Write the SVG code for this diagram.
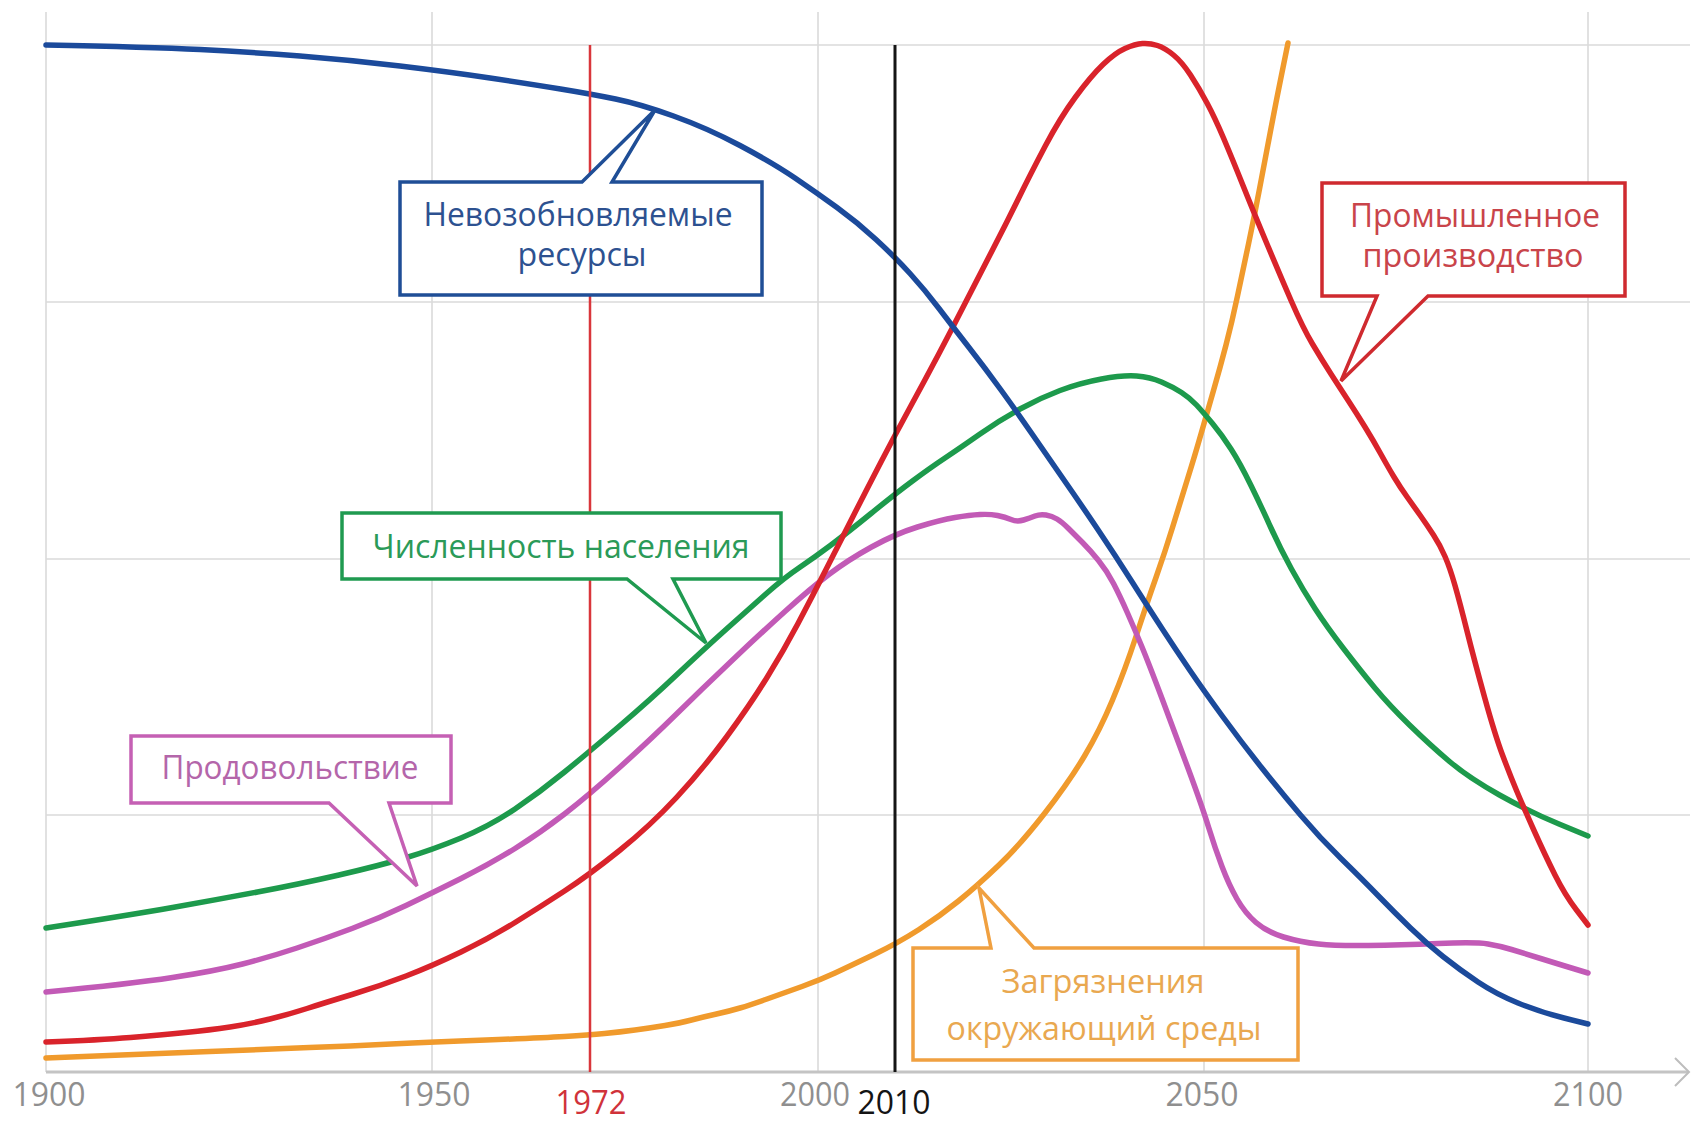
<svg xmlns="http://www.w3.org/2000/svg" width="1694" height="1124" viewBox="0 0 1694 1124">
<style>
.grid{stroke:#dadada;stroke-width:1.6;fill:none}
.axis{stroke:#c4c4c4;stroke-width:3;fill:none}
.curve{fill:none;stroke-width:5.5;stroke-linejoin:round;stroke-linecap:round}
.call{fill:#fff;stroke-width:3.5;stroke-linejoin:miter}
.lbl{font-family:"Open Sans","Noto Sans","Liberation Sans",sans-serif;font-size:32px;text-anchor:middle}
.tick{font-family:"Open Sans","Noto Sans","Liberation Sans",sans-serif;font-size:33px;text-anchor:middle;fill:#8f8f8f}
</style>
<rect width="1694" height="1124" fill="#fff"/>
<g id="grid">
<line class="grid" x1="46" y1="12" x2="46" y2="1072"/>
<line class="grid" x1="432" y1="12" x2="432" y2="1072"/>
<line class="grid" x1="818" y1="12" x2="818" y2="1072"/>
<line class="grid" x1="1204" y1="12" x2="1204" y2="1072"/>
<line class="grid" x1="1588" y1="12" x2="1588" y2="1072"/>
<line class="grid" x1="46" y1="45" x2="1690" y2="45"/>
<line class="grid" x1="46" y1="302" x2="1690" y2="302"/>
<line class="grid" x1="46" y1="559" x2="1690" y2="559"/>
<line class="grid" x1="46" y1="815" x2="1690" y2="815"/>
</g>
<g id="axis">
<line class="axis" x1="46" y1="1072" x2="1688" y2="1072"/>
<polyline points="1675,1058 1689,1072 1675,1086" fill="none" stroke="#bdbdbd" stroke-width="2"/>
<text class="tick" x="49" y="1106" textLength="73" lengthAdjust="spacingAndGlyphs">1900</text>
<text class="tick" x="434" y="1106" textLength="73" lengthAdjust="spacingAndGlyphs">1950</text>
<text class="tick" x="815" y="1106" textLength="70" lengthAdjust="spacingAndGlyphs">2000</text>
<text class="tick" x="1202" y="1106" textLength="73" lengthAdjust="spacingAndGlyphs">2050</text>
<text class="tick" x="1588" y="1106" textLength="70" lengthAdjust="spacingAndGlyphs">2100</text>
<text class="tick" x="591" y="1114" style="fill:#d0323a;font-size:32px" textLength="71" lengthAdjust="spacingAndGlyphs">1972</text>
<text class="tick" x="894" y="1114" style="fill:#141414;font-size:32px" textLength="73" lengthAdjust="spacingAndGlyphs">2010</text>
</g>
<g id="connectors">
<path id="curve-orange" class="curve" stroke="#f09a2c" d="M46,1058 Q150,1054 209.5,1051.5 Q269,1049 309.5,1047.5 Q350,1046 391,1044 Q432,1042 486,1040 Q540,1038 564.5,1036.5 Q589,1035 604.5,1033.5 Q620,1032 635,1030 Q650,1028 665,1025.5 Q680,1023 691.5,1020 Q703,1017 716.5,1014 Q730,1011 740,1008 Q750,1005 767,999 Q784,993 802,986.5 Q820,980 835,973 Q850,966 874,954.5 Q898,943 919,929.5 Q940,916 958.5,901 Q977,886 998.5,865.5 Q1020,845 1044.5,813.5 Q1069,782 1084.5,756 Q1100,730 1112.5,700 Q1125,670 1136,636.5 Q1147,603 1156,577.5 Q1165,552 1172.5,527.5 Q1180,503 1187.5,479 Q1195,455 1201,434 Q1207,413 1213.5,390.5 Q1220,368 1226,345 Q1232,322 1237.5,296 Q1243,270 1248.5,244 Q1254,218 1259.5,189 Q1265,160 1270.5,131 Q1276,102 1282,72.5 L1288,43"/>
<path id="curve-magenta" class="curve" stroke="#c25ab6" d="M46,992 Q130,984 172.5,977.5 Q215,971 242.5,964 Q270,957 297,948 Q324,939 352,928.5 Q380,918 406,905.5 Q432,893 461,878.5 Q490,864 515,848.5 Q540,833 564.5,814 Q589,795 619.5,767.5 Q650,740 676.5,714 Q703,688 731.5,661 Q760,634 785.5,611 Q811,588 829.5,574 Q848,560 871.5,547 Q895,534 917.5,527 Q940,520 955,517.5 Q970,515 980,514.5 Q990,514 997.5,515.5 Q1005,517 1011,519.5 Q1017,522 1023.5,520 Q1030,518 1035,516 Q1040,514 1046,515 Q1052,516 1057,519 Q1062,522 1068.5,528.5 Q1075,535 1082.5,542.5 Q1090,550 1098.5,560.5 Q1107,571 1113.5,583.5 Q1120,596 1127.5,613 Q1135,630 1142,647 Q1149,664 1162,698.5 Q1175,733 1188.5,769.5 Q1202,806 1208.5,827 Q1215,848 1222,866.5 Q1229,885 1237,899 Q1245,913 1256,922.5 Q1267,932 1283.5,937 Q1300,942 1318.5,944 Q1337,946 1368.5,945.5 Q1400,945 1438,943.5 Q1476,942 1488,944 Q1500,946 1511.5,949.5 Q1523,953 1539,958 Q1555,963 1571.5,968 L1588,973"/>
<path id="curve-green" class="curve" stroke="#1d9a4c" d="M46,928 Q130,915 172.5,907.5 Q215,900 257.5,892 Q300,884 339,875 Q378,866 405,858 Q432,850 461,838 Q490,826 515,809 Q540,792 564.5,772 Q589,752 619.5,726 Q650,700 676.5,675 Q703,650 726.5,629 Q750,608 767,593 Q784,578 799.5,567.5 Q815,557 831,545 Q847,533 871,513.5 Q895,494 912.5,481 Q930,468 945,458 Q960,448 980,434 Q1000,420 1020,409 Q1040,398 1060,390.5 Q1080,383 1101.5,379 Q1123,375 1136.5,376 Q1150,377 1161.5,382 Q1173,387 1181.5,392.5 Q1190,398 1196.5,405 Q1203,412 1212.5,423.5 Q1222,435 1231,449 Q1240,463 1251,485.5 Q1262,508 1271,528 Q1280,548 1291.5,569 Q1303,590 1315,608.5 Q1327,627 1343.5,648.5 Q1360,670 1374.5,687.5 Q1389,705 1409.5,725 Q1430,745 1449.5,761.5 Q1469,778 1499.5,795 Q1530,812 1559,824 L1588,836"/>
<path id="curve-red" class="curve" stroke="#d9232b" d="M46,1042 Q100,1040 130.5,1037.5 Q161,1035 185.5,1032.5 Q210,1030 230,1027 Q250,1024 270,1019 Q290,1014 307,1008.5 Q324,1003 352,994.5 Q380,986 406,976 Q432,966 461,952 Q490,938 515,922.5 Q540,907 564.5,891 Q589,875 619.5,850.5 Q650,826 676.5,797.5 Q703,769 726.5,737 Q750,705 767,677.5 Q784,650 798,623.5 Q812,597 826,569.5 Q840,542 854,514.5 Q868,487 881.5,461 Q895,435 910,407.5 Q925,380 939,353.5 Q953,327 966.5,300.5 Q980,274 993.5,248 Q1007,222 1018.5,198.5 Q1030,175 1045,146.5 Q1060,118 1075.5,97 Q1091,76 1103,64.5 Q1115,53 1125,48.5 Q1135,44 1142.5,43.5 Q1150,43 1157.5,45.5 Q1165,48 1173.5,55 Q1182,62 1190.5,75 Q1199,88 1207,103 Q1215,118 1223.5,138 Q1232,158 1243,185.5 Q1254,213 1267,244 Q1280,275 1291.5,301.5 Q1303,328 1312.5,344 Q1322,360 1331,374 Q1340,388 1348.5,401 Q1357,414 1365,427 Q1373,440 1380.5,453.5 Q1388,467 1394,477 Q1400,487 1407.5,497.5 Q1415,508 1421,516.5 Q1427,525 1433.5,535 Q1440,545 1445,556.5 Q1450,568 1455,585.5 Q1460,603 1467,631 Q1474,659 1484.5,697 Q1495,735 1502.5,755 Q1510,775 1516.5,790.5 Q1523,806 1534,830.5 Q1545,855 1555,875 Q1565,895 1576.5,910 L1588,925"/>
<path id="curve-blue" class="curve" stroke="#1b4a9b" d="M46,45 Q150,47 200,49.5 Q250,52 300,56 Q350,60 400,66 Q450,72 490,78 Q530,84 560.5,89 Q591,94 615.5,99 Q640,104 673.5,116 Q707,128 740,145.5 Q773,163 795,178 Q817,193 837,207.5 Q857,222 876,239.5 Q895,257 910,273.5 Q925,290 939,308.5 Q953,327 969,347.5 Q985,368 1001,390 Q1017,412 1033.5,436 Q1050,460 1065,481.5 Q1080,503 1097.5,529 Q1115,555 1131.5,581 Q1148,607 1162,628.5 Q1176,650 1190,670.5 Q1204,691 1223,717 Q1242,743 1261.5,767.5 Q1281,792 1300.5,815 Q1320,838 1341,858.5 Q1362,879 1378.5,896 Q1395,913 1410.5,928 Q1426,943 1443,956.5 Q1460,970 1478,982 Q1496,994 1518,1003 Q1540,1012 1564,1018 L1588,1024"/>
<line id="line-1972" x1="590" y1="45" x2="590" y2="1072" stroke="#d9363b" stroke-width="2.5"/>
<line id="line-2010" x1="895" y1="45" x2="895" y2="1072" stroke="#151515" stroke-width="3"/>
</g>
<g id="node-resources">
<path class="call" stroke="#1f4e96" d="M400,182 L582,182 L655,110 L612,182 L762,182 L762,295 L400,295 Z"/>
<text class="lbl" fill="#2d5190" x="578" y="226" textLength="309" lengthAdjust="spacingAndGlyphs">Невозобновляемые</text>
<text class="lbl" fill="#2d5190" x="582" y="266" textLength="129" lengthAdjust="spacingAndGlyphs">ресурсы</text>
</g>
<g id="node-industry">
<path class="call" stroke="#cf2a2f" d="M1322,183 L1625,183 L1625,296 L1428,296 L1341,381 L1377,296 L1322,296 Z"/>
<text class="lbl" fill="#c9444a" x="1475" y="227" textLength="250" lengthAdjust="spacingAndGlyphs">Промышленное</text>
<text class="lbl" fill="#c9444a" x="1473" y="267" textLength="221" lengthAdjust="spacingAndGlyphs">производство</text>
</g>
<g id="node-population">
<path class="call" stroke="#1f9a50" d="M342,513 L781,513 L781,579 L673,579 L706,643 L627,579 L342,579 Z"/>
<text class="lbl" fill="#2b9a58" x="561" y="558" textLength="377" lengthAdjust="spacingAndGlyphs">Численность населения</text>
</g>
<g id="node-food">
<path class="call" stroke="#c560b4" d="M131,736 L451,736 L451,803 L389,803 L417,886 L329,803 L131,803 Z"/>
<text class="lbl" fill="#b466aa" x="290" y="779" textLength="257" lengthAdjust="spacingAndGlyphs">Продовольствие</text>
</g>
<g id="node-pollution">
<path class="call" stroke="#f0a040" d="M913,948 L991,948 L979,888 L1034,948 L1298,948 L1298,1060 L913,1060 Z"/>
<text class="lbl" fill="#e9a850" x="1103" y="993" textLength="203" lengthAdjust="spacingAndGlyphs">Загрязнения</text>
<text class="lbl" fill="#e9a850" x="1104" y="1040" textLength="315" lengthAdjust="spacingAndGlyphs">окружающий среды</text>
</g>
</svg>
